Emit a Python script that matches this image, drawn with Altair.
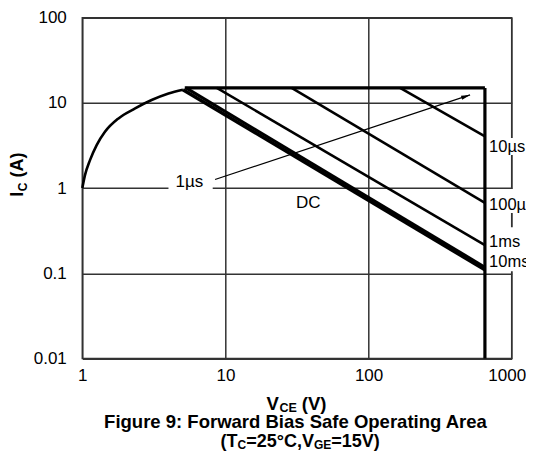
import math
import altair as alt
import pandas as pd

# ---------------- data ----------------
# rising limit curve (V_CE, I_C)
curve_x = [1.0, 1.044, 1.132, 1.26, 1.44, 1.79, 2.34, 3.05, 4.0, 5.05]
curve_y = [1.0, 1.42, 2.13, 3.2, 4.58, 6.58, 8.62, 10.8, 12.9, 14.3]

# straight SOA boundaries: name, start (x0, y0), end (x1, y1)
seg_names = ["top", "vertical", "10us", "100us", "1ms", "10ms", "DC"]
seg_x0 = [5.2, 650, 166, 29, 8.7, 5.3, 5.05]
seg_y0 = [15, 15, 15, 15, 15, 15, 14.3]
seg_x1 = [650, 650, 650, 650, 650, 650, 650]
seg_y1 = [15, 0.01, 4.05, 0.67, 0.214, 0.118, 0.110]

# pulse labels on the right
pulse_labels = ["10µs", "100µs", "1ms", "10ms"]
pulse_label_x = [695, 695, 695, 695]
pulse_label_y = [3.05, 0.63, 0.234, 0.136]

# white label backgrounds (x0, x1, y0, y1)
bg_x0 = [673, 673, 673, 4.0]
bg_x1 = [5000, 5000, 5000, 8.15]
bg_y0 = [2.44, 0.509, 0.106, 0.96]
bg_y1 = [3.86, 0.973, 0.348, 1.04]

# arrow from the "1µs" label
arrow_x = [8.46, 512]
arrow_y = [1.26, 12.4]

x_ticks = [1, 10, 100, 1000]
y_ticks = [0.01, 0.1, 1, 10, 100]

# ---------------- styling ----------------
W, H = 429.4, 340.8
FONT = "Liberation Sans"
seg_width = {"top": 3.2, "vertical": 3.2, "10us": 2.5, "100us": 2.5,
             "1ms": 2.5, "10ms": 3.0, "DC": 3.5}

xs = alt.Scale(type="log", domain=[1, 1000], nice=False)
ys = alt.Scale(type="log", domain=[0.01, 100], nice=False)

x_axis = alt.Axis(values=x_ticks, format="~g", grid=True, ticks=False, domain=False,
                  labelFlush=False, labelOverlap=False, labelPadding=9, title=None,
                  labelOffset={"condition": {"test": "datum.value >= 1000", "value": -5},
                               "value": 0})
y_axis = alt.Axis(values=y_ticks, format="~g", grid=True, ticks=False, domain=False,
                  labelFlush=False, labelOverlap=False, labelPadding=16, title=None)

# backgrounds
bg_df = pd.DataFrame({"x0": bg_x0, "x1": bg_x1, "y0": bg_y0, "y1": bg_y1})
bg = alt.Chart(bg_df).mark_rect(color="white", opacity=1).encode(
    x=alt.X("x0:Q", scale=xs, axis=x_axis), x2="x1:Q",
    y=alt.Y("y0:Q", scale=ys, axis=y_axis), y2="y1:Q")

# curve
curve_df = pd.DataFrame({"x": curve_x, "y": curve_y, "o": range(len(curve_x))})
curve = alt.Chart(curve_df).mark_line(color="black", strokeWidth=2.6,
                                      interpolate="monotone").encode(
    x=alt.X("x:Q", scale=xs), y=alt.Y("y:Q", scale=ys), order="o:Q")

# straight segments
rows = []
for n, a, b, c, d in zip(seg_names, seg_x0, seg_y0, seg_x1, seg_y1):
    rows.append({"name": n, "x": a, "y": b, "o": 0, "w": seg_width[n]})
    rows.append({"name": n, "x": c, "y": d, "o": 1, "w": seg_width[n]})
seg_df = pd.DataFrame(rows)
segs = alt.Chart(seg_df).mark_line(color="black", strokeCap="butt").encode(
    x=alt.X("x:Q", scale=xs), y=alt.Y("y:Q", scale=ys),
    detail="name:N", order="o:Q",
    strokeWidth=alt.StrokeWidth("w:Q", scale=None))

# arrow
arr_df = pd.DataFrame({"x": [arrow_x[0]], "y": [arrow_y[0]],
                       "x2": [arrow_x[1]], "y2": [arrow_y[1]]})
arrow_line = alt.Chart(arr_df).mark_rule(color="black", strokeWidth=1.2).encode(
    x=alt.X("x:Q", scale=xs), y=alt.Y("y:Q", scale=ys), x2="x2:Q", y2="y2:Q")
dx = (math.log10(arrow_x[1]) - math.log10(arrow_x[0])) * W / 3
dy = -(math.log10(arrow_y[1]) - math.log10(arrow_y[0])) * H / 4
head_angle = (math.degrees(math.atan2(dy, dx)) + 90) % 360
head_df = pd.DataFrame({"x": [arrow_x[1]], "y": [arrow_y[1]]})
arrow_head = alt.Chart(head_df).mark_point(
    shape="M0,0L0.55,2.4L-0.55,2.4Z", filled=True, color="black", opacity=1,
    size=56, angle=head_angle, strokeWidth=0).encode(
    x=alt.X("x:Q", scale=xs), y=alt.Y("y:Q", scale=ys))

# annotations in data space
pl_df = pd.DataFrame({"t": pulse_labels, "x": pulse_label_x, "y": pulse_label_y})
pulse_text = alt.Chart(pl_df).mark_text(align="left", baseline="middle", font=FONT,
                                        fontSize=16.5, color="black").encode(
    x=alt.X("x:Q", scale=xs), y=alt.Y("y:Q", scale=ys), text="t:N")

ann_df = pd.DataFrame({"t": ["1µs"], "x": [5.6], "y": [1.0]})
us_text = alt.Chart(ann_df).mark_text(align="center", baseline="alphabetic", dy=-1.5,
                                      font=FONT, fontSize=17, color="black").encode(
    x=alt.X("x:Q", scale=xs), y=alt.Y("y:Q", scale=ys), text="t:N")

dc_df = pd.DataFrame({"t": ["DC"], "x": [37.9], "y": [0.66]})
dc_text = alt.Chart(dc_df).mark_text(align="center", baseline="middle",
                                     font=FONT, fontSize=17, color="black").encode(
    x=alt.X("x:Q", scale=xs), y=alt.Y("y:Q", scale=ys), text="t:N")

# ---------------- titles with subscripts ----------------
BOLD_W = {"(": 333, ")": 333, ",": 278, "=": 584, "1": 556,
          "2": 556, "5": 556, "A": 722, "C": 722, "E": 667, "G": 778, "I": 278,
          "T": 611, "V": 667, "°": 400}


def tw(s, size):
    return sum(BOLD_W.get(ch, 556) for ch in s) * size / 1000.0


def rich(pieces, cx, base, rotated=False):
    """pieces: (text, size, shift, gap_before) ; cx = centre along text direction."""
    total = sum(tw(t, s) + g for t, s, _, g in pieces)
    layers = []
    pos = cx - total / 2 if not rotated else cx + total / 2
    for t, s, sh, g in pieces:
        df = pd.DataFrame({"t": [t]})
        if not rotated:
            pos += g
            m = alt.Chart(df).mark_text(align="left", baseline="alphabetic", font=FONT,
                                        fontSize=s, fontWeight="bold", color="black"
                                        ).encode(x=alt.value(pos), y=alt.value(base + sh),
                                                 text="t:N")
            pos += tw(t, s)
        else:
            pos -= g
            m = alt.Chart(df).mark_text(align="left", baseline="alphabetic", font=FONT,
                                        fontSize=s, fontWeight="bold", color="black",
                                        angle=270
                                        ).encode(x=alt.value(base + sh), y=alt.value(pos),
                                                 text="t:N")
            pos -= tw(t, s)
        layers.append(m)
    return layers


x_title = rich([("V", 18.5, 0, 0), ("CE", 12.5, 2, 0.5), ("(V)", 18.5, 0, 5)],
               214.2, 392.3)
y_title = rich([("I", 18, 0, 0), ("C", 12, 3.5, 0.5), ("(A)", 18, 0, 5)], 157.0, -59.3,
               rotated=True)
cap2 = rich([("(T", 18, 0, 0), ("C", 12, 2, 0), ("=25°C,V", 18, 0, 0), ("GE", 12, 2, 0),
             ("=15V)", 18, 0, 0)], 217.9, 429.0)
cap1 = alt.Chart(pd.DataFrame({"t": ["Figure 9: Forward Bias Safe Operating Area"]})
                 ).mark_text(align="center", baseline="alphabetic", font=FONT,
                             fontSize=18.5, fontWeight="bold", color="black").encode(
    x=alt.value(213.2), y=alt.value(409.8), text="t:N")

chart = alt.layer(
    bg, curve, segs, arrow_line, arrow_head, pulse_text, us_text, dc_text,
    *x_title, *y_title, *cap2, cap1
).properties(
    width=W, height=H,
    padding={"left": 74.3, "top": 9.7, "right": 14.3, "bottom": 92},
    autosize=alt.AutoSizeParams(type="none"),
).configure_view(
    stroke="#333333", strokeWidth=1.5
).configure_axis(
    gridColor="#333333", gridWidth=1.5, gridOpacity=1,
    labelFont=FONT, labelFontSize=17, labelColor="black"
)

chart.save("out.html", embed_options={"renderer": "svg", "actions": False})
